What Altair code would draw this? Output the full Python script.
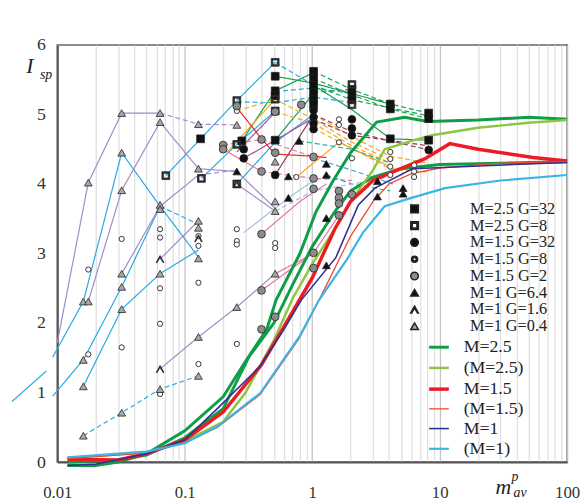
import altair as alt
import pandas as pd

# ---------------- axes ----------------
X_DOMAIN = [0.01, 100]
Y_DOMAIN = [0, 6]
X_MAJOR = [0.01, 0.1, 1, 10, 100]
Y_TICKS = [0, 1, 2, 3, 4, 5, 6]

# ---------------- model curves (legend lines) ----------------
LINE_NAMES = ["M=2.5", "(M=2.5)", "M=1.5", "(M=1.5)", "M=1", "(M=1)"]
LINE_COLORS = ["#0f9d48", "#8dc63f", "#ed1c24", "#f04a2f", "#2e3192", "#3cb4e5"]
LINE_WIDTHS = [3.0, 2.5, 3.5, 1.3, 1.6, 2.2]

M25_A_X = [0.012, 0.02, 0.03, 0.05, 0.1, 0.2, 0.3, 0.44, 0.52, 0.8, 1.07, 1.45, 2, 3.2, 5.3, 8, 20, 50, 100]
M25_A_Y = [-0.05, -0.05, 0.0, 0.12, 0.45, 0.94, 1.45, 1.91, 2.33, 3.0, 3.6, 4.04, 4.45, 4.89, 4.96, 4.9, 4.92, 4.96, 4.93]
M25_B_X = [0.012, 0.03, 0.05, 0.1, 0.2, 0.32, 0.5, 0.7, 1.0, 1.5, 2, 3, 5, 10, 30, 100]
M25_B_Y = [0.0, 0.03, 0.1, 0.35, 0.77, 1.52, 2.0, 2.55, 3.1, 3.6, 3.9, 4.1, 4.22, 4.28, 4.3, 4.32]
M25P_X = [0.012, 0.05, 0.1, 0.2, 0.3, 0.5, 0.7, 1.0, 1.5, 2.0, 3.0, 3.7, 6, 8.7, 20, 50, 100]
M25P_Y = [0.06, 0.14, 0.3, 0.58, 1.0, 1.75, 2.35, 2.85, 3.35, 3.75, 4.2, 4.5, 4.62, 4.7, 4.81, 4.88, 4.92]
M15_X = [0.012, 0.03, 0.05, 0.1, 0.2, 0.4, 0.6, 1.0, 1.5, 2.0, 3.0, 4.25, 7.6, 12, 20, 54, 100]
M15_Y = [0.04, 0.03, 0.12, 0.32, 0.72, 1.4, 1.95, 2.65, 3.35, 3.75, 4.05, 4.17, 4.36, 4.58, 4.5, 4.38, 4.33]
M15P_X = [0.012, 0.05, 0.1, 0.18, 0.39, 0.79, 1.13, 2, 3, 4, 6, 10, 30, 100]
M15P_Y = [0.05, 0.13, 0.28, 0.5, 0.97, 1.78, 2.33, 3.25, 3.75, 4.0, 4.15, 4.23, 4.3, 4.32]
M1_X = [0.012, 0.02, 0.05, 0.1, 0.18, 0.39, 0.6, 0.82, 1.53, 2.3, 3.1, 6.1, 38, 100]
M1_Y = [-0.05, -0.03, 0.12, 0.32, 0.77, 1.38, 1.91, 2.33, 2.94, 3.7, 3.94, 4.22, 4.28, 4.31]
M1P_X = [0.012, 0.05, 0.1, 0.18, 0.39, 0.79, 1.13, 1.85, 2.5, 3.7, 6, 11, 30, 100]
M1P_Y = [0.07, 0.15, 0.27, 0.51, 0.99, 1.8, 2.33, 2.9, 3.3, 3.68, 3.8, 3.94, 4.05, 4.13]

CURVES = [
    ("M=2.5", M25_A_X, M25_A_Y),
    ("M=2.5", M25_B_X, M25_B_Y),
    ("(M=2.5)", M25P_X, M25P_Y),
    ("M=1.5", M15_X, M15_Y),
    ("(M=1.5)", M15P_X, M15P_Y),
    ("M=1", M1_X, M1_Y),
    ("(M=1)", M1P_X, M1P_Y),
]

# ---------------- simulation points (markers) ----------------
MARKER_NAMES = ["M=2.5 G=32", "M=2.5 G=8", "M=1.5 G=32", "M=1.5 G=8",
                "M=1.5 G=2", "M=1 G=6.4", "M=1 G=1.6", "M=1 G=0.4"]
RING_SQUARE = "M-1,-1L1,-1L1,1L-1,1Z M-0.62,-0.62L-0.62,0.62L0.62,0.62L0.62,-0.62Z"
RING_CIRCLE = ("M-0.8,0A0.8,0.8 0 1,0 0.8,0A0.8,0.8 0 1,0 -0.8,0Z "
               "M-0.45,0A0.45,0.45 0 1,1 0.45,0A0.45,0.45 0 1,1 -0.45,0Z")
CARET = "M-1,0.9L0,-0.9L1,0.9L0.75,0.9L0,-0.45L-0.75,0.9Z"
MARKER_SHAPES = ["square", RING_SQUARE, "circle", RING_CIRCLE, "circle", "triangle-up", CARET, "triangle-up"]
MARKER_FILLS = ["#111111", "#333333", "#111111", "#333333", "#8c8c8c", "#111111", "#333333", "#a8a8a8"]

SQ_FILLED_X = [0.133, 0.28, 0.512, 0.512, 0.512, 0.512, 0.512, 1.024, 1.024, 1.024, 1.024, 1.024, 1.024,
               2.048, 2.048, 2.048, 4.096, 4.096, 4.096, 8.192, 8.192, 8.192]
SQ_FILLED_Y = [4.65, 4.62, 5.55, 5.34, 5.27, 5.05, 4.63, 5.62, 5.52, 5.42, 5.32, 5.22, 5.14,
               5.36, 5.28, 5.21, 5.15, 5.08, 4.65, 5.02, 4.94, 4.63]
SQ_OPEN_X = [0.071, 0.135, 0.256, 0.256, 0.256, 0.512, 0.512, 2.048, 2.048]
SQ_OPEN_Y = [4.12, 4.08, 5.2, 4.57, 4.0, 5.75, 5.22, 5.43, 5.14]
CI_FILLED_X = [0.29, 0.29, 0.512, 1.024, 1.024, 1.024, 1.024, 2.048, 2.048, 2.048, 8.192]
CI_FILLED_Y = [4.5, 4.37, 4.13, 5.06, 4.96, 4.87, 4.79, 4.93, 4.8, 4.7, 4.49]
CI_OPEN_X = [0.0175, 0.0175, 0.032, 0.032, 0.064, 0.064, 0.064, 0.064, 0.064, 0.128, 0.128, 0.128, 0.128,
             0.256, 0.256, 0.256, 0.256, 0.512, 0.512, 0.256, 0.75, 1.62, 1.62, 1.62, 2.048,
             4.096, 4.096, 4.096, 4.096, 6.3, 6.3, 6.3]
CI_OPEN_Y = [2.77, 1.55, 3.21, 1.65, 3.35, 3.23, 2.5, 1.99, 0.98, 3.25, 3.11, 2.58, 1.41,
             3.35, 3.18, 3.13, 1.7, 3.15, 3.08, 5.05, 4.1, 4.93, 4.85, 4.6, 4.37,
             4.46, 4.36, 4.25, 4.13, 4.27, 4.18, 4.1]
CI_GRAY_X = [0.2, 0.2, 0.256, 0.4, 0.4, 0.512, 0.512, 0.82, 1.024, 1.024, 1.024, 1.62, 1.62, 1.62, 1.62,
             2.048, 0.4, 0.4, 1.024, 1.024, 0.4, 0.512]
CI_GRAY_Y = [4.56, 4.5, 5.12, 4.64, 4.18, 5.04, 4.45, 5.14, 4.39, 4.08, 3.93, 3.9, 3.8, 3.72, 3.55,
             3.85, 3.28, 2.47, 3.01, 2.79, 1.91, 2.09]
TR_FILLED_X = [0.256, 0.65, 0.65, 0.79, 1.29, 1.29, 1.29, 1.29, 3.25, 3.25, 5.16, 5.16]
TR_FILLED_Y = [4.18, 4.11, 3.8, 4.62, 4.29, 4.13, 3.51, 2.83, 4.04, 3.82, 3.94, 3.86]
TR_CARET_X = [0.064, 0.064, 0.128, 0.256]
TR_CARET_Y = [2.92, 1.34, 3.22, 4.0]
TR_GRAY_X = [0.0175, 0.032, 0.064, 0.064, 0.128, 0.032, 0.032, 0.064, 0.064, 0.128, 0.128, 0.128, 0.128,
             0.016, 0.0175, 0.032, 0.032, 0.032, 0.016, 0.016, 0.032, 0.016, 0.064, 0.064, 0.128, 0.128,
             0.256, 0.256, 0.512, 0.512, 0.512, 0.512]
TR_GRAY_Y = [4.02, 5.02, 5.02, 4.89, 4.86, 4.45, 3.91, 3.70, 3.64, 4.22, 3.47, 3.37, 2.93,
             2.31, 2.31, 2.71, 2.52, 2.2, 1.47, 1.09, 0.71, 0.38, 2.71, 1.05, 1.8, 1.24,
             4.85, 2.23, 2.71, 3.75, 3.61, 4.32]

# the small open circles (M=1.5 G=8) are drawn in their own, smaller layer
MARKERS = [
    (MARKER_NAMES[0], SQ_FILLED_X, SQ_FILLED_Y),
    (MARKER_NAMES[1], SQ_OPEN_X, SQ_OPEN_Y),
    (MARKER_NAMES[2], CI_FILLED_X, CI_FILLED_Y),
    (MARKER_NAMES[4], CI_GRAY_X, CI_GRAY_Y),
    (MARKER_NAMES[5], TR_FILLED_X, TR_FILLED_Y),
    (MARKER_NAMES[6], TR_CARET_X, TR_CARET_Y),
    (MARKER_NAMES[7], TR_GRAY_X, TR_GRAY_Y),
]

# ---------------- connecting lines between simulation points ----------------
CYAN, PURPLE, GREEN, ORANGE = "#27aae1", "#9e8cc8", "#12a14b", "#f8a51b"
PINK, RED, BROWN, TEAL, LBLUE, MAGENTA = "#e8749b", "#e8252a", "#8a3b5c", "#25b2ad", "#a9bde0", "#a64d9b"

TRACES = [
    (CYAN, "solid", [0.0044, 0.0082], [0.87, 1.31]),
    (CYAN, "solid", [0.0092, 0.016, 0.032, 0.064, 0.128], [1.51, 2.31, 4.45, 3.68, 2.95]),
    (CYAN, "solid", [0.0092, 0.016, 0.032, 0.064], [0.95, 1.47, 2.52, 3.68]),
    (CYAN, "solid", [0.016, 0.032, 0.064, 0.128], [1.09, 2.2, 2.71, 3.05]),
    (CYAN, "dash", [0.016, 0.032, 0.064, 0.128], [0.38, 0.71, 1.05, 1.24]),
    (CYAN, "solid", [0.071, 0.133, 0.256, 0.512], [4.12, 4.65, 5.2, 5.75]),
    (CYAN, "dash", [0.512, 1.024], [5.75, 5.42]),
    (CYAN, "solid", [0.135, 0.256, 0.512], [4.08, 4.57, 5.05]),
    (CYAN, "solid", [0.256, 0.512, 1.024], [4.0, 4.6, 5.0]),
    (CYAN, "dash", [0.256, 0.512, 1.024, 2.048], [5.18, 5.17, 5.25, 5.17]),
    (CYAN, "dash", [0.512, 1.024, 2.048], [5.33, 5.38, 5.3]),
    (CYAN, "dash", [0.064, 0.128], [3.68, 3.42]),
    (CYAN, "dash", [1.024, 2.2, 4.3], [4.37, 4.18, 4.0]),
    (PURPLE, "solid", [0.01, 0.0175, 0.032, 0.064], [1.72, 4.02, 5.02, 5.02]),
    (PURPLE, "dash", [0.064, 0.128, 0.256], [5.02, 4.86, 4.85]),
    (PURPLE, "solid", [0.0175, 0.032, 0.064, 0.128, 0.256, 0.512], [2.31, 3.91, 4.89, 4.22, 4.18, 3.65]),
    (PURPLE, "solid", [0.032, 0.064, 0.128], [2.71, 3.68, 4.13]),
    (PURPLE, "dash", [0.128, 0.256], [4.13, 4.2]),
    (PURPLE, "solid", [0.064, 0.128], [2.92, 3.47]),
    (PURPLE, "solid", [0.064, 0.128, 0.256, 0.512], [1.34, 1.8, 2.23, 2.71]),
    (PURPLE, "solid", [0.256, 0.512], [4.0, 3.61]),
    (GREEN, "solid", [0.28, 0.512, 1.024], [4.62, 5.34, 5.6]),
    (GREEN, "solid", [0.512, 1.024, 2.048, 4.096], [5.55, 5.45, 5.3, 5.15]),
    (GREEN, "solid", [1.024, 2.048, 4.096, 8.192], [5.42, 5.07, 4.65, 4.63]),
    (GREEN, "solid", [0.512, 1.024], [4.63, 5.3]),
    (GREEN, "dash", [1.024, 2.048, 4.096, 8.192], [5.62, 5.36, 5.15, 5.02]),
    (GREEN, "dash", [1.024, 2.048, 4.096, 8.192], [5.52, 5.28, 5.08, 4.94]),
    (GREEN, "dash", [1.024, 2.048, 8.192], [5.42, 5.21, 4.98]),
    (GREEN, "dash", [1.024, 2.048], [5.32, 5.36]),
    (ORANGE, "solid", [0.216, 0.512], [4.46, 5.22]),
    (ORANGE, "dash", [0.256, 0.512, 1.024, 2.048, 4.096], [5.05, 5.22, 4.93, 4.6, 4.35]),
    (ORANGE, "dash", [0.512, 1.024, 2.048, 4.096], [5.04, 4.87, 4.55, 4.3]),
    (ORANGE, "dash", [1.024, 2.048, 4.096, 8.192], [5.0, 4.68, 4.4, 4.3]),
    (ORANGE, "dash", [1.024, 4.096, 8.192], [4.8, 4.22, 4.17]),
    (ORANGE, "solid", [0.75, 1.62, 4.096], [4.1, 4.6, 4.25]),
    (BROWN, "dash", [1.024, 2.048, 4.096, 8.192], [5.0, 4.75, 4.62, 4.49]),
    (BROWN, "dash", [1.024, 2.048, 8.192], [4.93, 4.7, 4.55]),
    (BROWN, "solid", [0.512, 1.024], [4.13, 5.0]),
    (MAGENTA, "solid", [0.256, 0.512], [4.46, 5.03]),
    (MAGENTA, "solid", [0.29, 0.512, 1.024], [4.37, 4.63, 4.95]),
    (PINK, "solid", [0.2, 0.4], [4.5, 4.18]),
    (PINK, "dash", [0.4, 1.024, 2.048], [4.18, 4.08, 4.05]),
    (PINK, "dash", [0.2, 0.4, 1.024], [4.56, 4.64, 4.39]),
    (PINK, "solid", [0.4, 1.024, 1.62], [2.47, 3.01, 3.55]),
    (PINK, "solid", [0.4, 0.8, 1.29], [3.28, 3.75, 4.0]),
    (PINK, "solid", [0.512, 1.024], [2.71, 3.0]),
    (RED, "solid", [0.256, 0.4, 0.512, 1.024, 1.29], [5.1, 4.65, 4.43, 4.4, 4.38]),
    (TEAL, "dash", [0.79, 2.048, 4.096], [4.62, 4.5, 4.3]),
    (TEAL, "dash", [1.29, 2.048, 4.096], [4.13, 4.0, 3.9]),
    (LBLUE, "solid", [0.29, 0.65, 1.024], [3.3, 3.8, 4.05]),
    (LBLUE, "dash", [0.512, 1.024, 2.048, 4.096], [3.61, 3.9, 4.0, 4.1]),
]

# ---------------- axis title pieces ----------------
TITLE_BIG = ["I", "m"]
TITLE_BIG_X = [0.0061, 31.5]
TITLE_BIG_Y = [5.70, -0.36]
TITLE_SMALL = ["sp", "p", "av"]
TITLE_SMALL_X = [0.0073, 36.5, 38.0]
TITLE_SMALL_Y = [5.56, -0.22, -0.45]

# ---------------- build tables ----------------
trace_rows = []
for t, (col, dash, xs, ys) in enumerate(TRACES):
    for i, (x, y) in enumerate(zip(xs, ys)):
        trace_rows.append({"tid": t, "i": i, "x": x, "y": y, "col": col, "dash": dash})
traces_df = pd.DataFrame(trace_rows)

curve_rows = []
for c, (name, xs, ys) in enumerate(CURVES):
    for i, (x, y) in enumerate(zip(xs, ys)):
        curve_rows.append({"cid": c, "i": i, "x": x, "y": y, "model": name})
curves_df = pd.DataFrame(curve_rows)

marker_rows = []
for name, xs, ys in MARKERS:
    for x, y in zip(xs, ys):
        marker_rows.append({"x": x, "y": y, "marker": name})
markers_df = pd.DataFrame(marker_rows)
small_circ_df = pd.DataFrame({"x": CI_OPEN_X, "y": CI_OPEN_Y})

big_df = pd.DataFrame({"t": TITLE_BIG, "x": TITLE_BIG_X, "y": TITLE_BIG_Y})
small_df = pd.DataFrame({"t": TITLE_SMALL, "x": TITLE_SMALL_X, "y": TITLE_SMALL_Y})

# x grid values: every 1..9 multiple of each decade
x_grid = []
for e in range(-2, 2):
    for k in range(1, 10):
        x_grid.append(round(k * 10 ** e, 6))
x_grid.append(100)

FONT = "Liberation Serif"
major_test = "indexof([0.01,0.1,1,10,100], datum.value) >= 0"

x_scale = alt.Scale(type="log", domain=X_DOMAIN, nice=False)
y_scale = alt.Scale(domain=Y_DOMAIN, nice=False, zero=False)

x_enc = alt.X("x:Q", scale=x_scale, axis=alt.Axis(
    values=x_grid, title=None, grid=True,
    gridColor={"condition": {"test": major_test, "value": "#c4c4c4"}, "value": "#e0e0e0"},
    gridWidth=1.3, ticks=False, domainColor="#555555", domainWidth=2,
    labelExpr=major_test + " ? format(datum.value, '~g') : ''",
    labelFont=FONT, labelFontSize=17, labelColor="#333333", labelPadding=23,
    labelFlush=False, labelOverlap=False))
y_enc = alt.Y("y:Q", scale=y_scale, axis=alt.Axis(
    values=Y_TICKS, title=None, grid=False, ticks=False,
    domainColor="#555555", domainWidth=2, format="d",
    labelFont=FONT, labelFontSize=18, labelColor="#333333", labelPadding=12))

lines = alt.Chart(traces_df).mark_line(strokeWidth=1.2, clip=False).encode(
    x=x_enc, y=y_enc,
    color=alt.Color("col:N", scale=None),
    strokeDash=alt.StrokeDash("dash:N", scale=alt.Scale(domain=["solid", "dash"], range=[[1, 0], [5, 3]]),
                              legend=None),
    detail="tid:N", order="i:Q")

line_legend = alt.Legend(title=None, orient="none", legendX=375, legendY=295, symbolSize=400,
                         symbolType="stroke", labelFont=FONT, labelFontSize=18, labelColor="#222222",
                         labelOffset=13, rowPadding=0, padding=0)
curves = alt.Chart(curves_df).mark_line(clip=False).encode(
    x="x:Q", y="y:Q",
    stroke=alt.Stroke("model:N", scale=alt.Scale(domain=LINE_NAMES, range=LINE_COLORS), legend=line_legend),
    strokeWidth=alt.StrokeWidth("model:N", scale=alt.Scale(type="ordinal", domain=LINE_NAMES, range=LINE_WIDTHS),
                                legend=line_legend),
    detail="cid:N", order="i:Q")

marker_legend = alt.Legend(title=None, orient="none", legendX=354, legendY=158,
                           labelFont=FONT, labelFontSize=16.5, labelColor="#222222",
                           labelOffset=48, rowPadding=0, padding=0, symbolSize=60)
small_circles = alt.Chart(small_circ_df).mark_point(
    shape="circle", filled=True, fill="#ffffff", stroke="#333333", strokeWidth=1, size=28, opacity=1
).encode(x="x:Q", y="y:Q")
points = alt.Chart(markers_df).mark_point(filled=True, stroke="#222222", strokeWidth=0.8, size=62,
                                          opacity=1).encode(
    x="x:Q", y="y:Q",
    shape=alt.Shape("marker:N", scale=alt.Scale(domain=MARKER_NAMES, range=MARKER_SHAPES), legend=marker_legend),
    fill=alt.Fill("marker:N", scale=alt.Scale(domain=MARKER_NAMES, range=MARKER_FILLS), legend=marker_legend))

big_text = alt.Chart(big_df).mark_text(font=FONT, fontSize=22, fontStyle="italic", color="#222222",
                                       align="center", baseline="middle").encode(x="x:Q", y="y:Q", text="t:N")
small_text = alt.Chart(small_df).mark_text(font=FONT, fontSize=14, fontStyle="italic", color="#222222",
                                           align="left", baseline="middle").encode(x="x:Q", y="y:Q", text="t:N")

chart = alt.layer(lines, curves, small_circles, points, big_text, small_text).properties(
    width=517, height=423,
    autosize=alt.AutoSizeParams(type="none"),
    padding={"left": 50, "top": 34, "right": 13, "bottom": 38},
    background="#ffffff",
).configure_view(stroke="#666666", strokeWidth=1.5)

chart.save("out.html", embed_options={"renderer": "svg", "actions": False})
